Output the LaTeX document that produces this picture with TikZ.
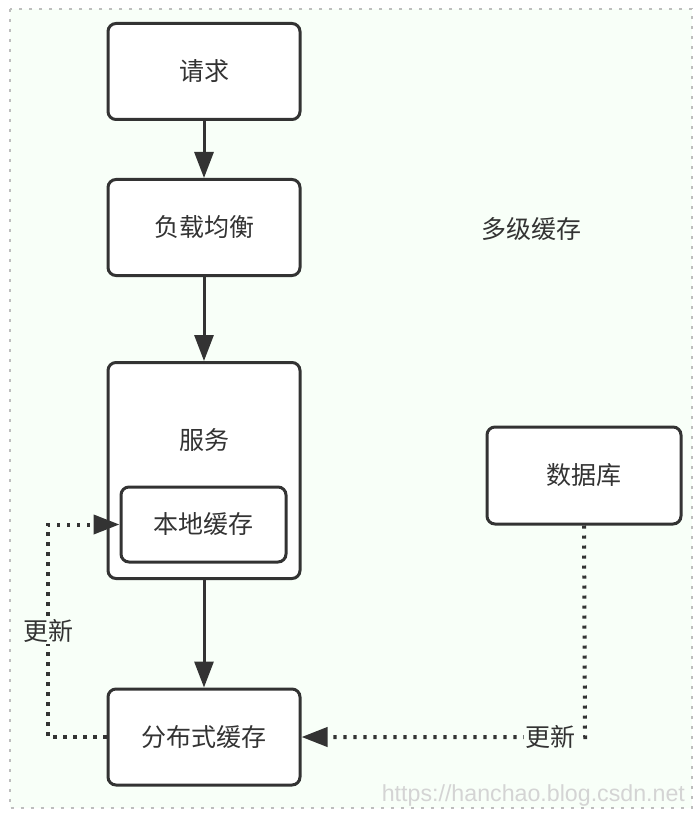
\documentclass[tikz,border=0pt]{standalone}
\usepackage{fontspec}
\setmainfont{Noto Sans CJK SC}
\newfontfamily\markfont{Liberation Sans}
\usetikzlibrary{arrows.meta}
\definecolor{paleground}{RGB}{248,255,248}
\definecolor{framegray}{RGB}{190,190,190}
\definecolor{inkgray}{RGB}{51,51,51}
\definecolor{markgray}{RGB}{212,212,212}

\begin{document}
\begin{tikzpicture}[x=0.5pt,y=-0.5pt, every node/.style={font=\fontsize{12.5}{15}\selectfont, text=inkgray},
    box/.style={draw=inkgray, line width=1.5pt, rounded corners=4pt, fill=white, inner sep=0pt},
    flow/.style={-{Triangle[length=13pt,width=9.5pt]}, draw=inkgray, line width=1.5pt},
    update/.style={-{Triangle[length=13pt,width=9.5pt]}, draw=inkgray, line width=2pt, dash pattern=on 1.6pt off 3.4pt},
    updlabel/.style={fill=paleground, inner sep=1pt}]
  \useasboundingbox (0,0) rectangle (700,818);
  \draw[framegray, line width=1.3pt, dash pattern=on 1.3pt off 3.7pt, fill=paleground] (10,9) rectangle (692,808);
  % left column
  \node[box, minimum width=96pt, minimum height=48pt] (req) at (204,71.5) {请求};
  \node[box, minimum width=96pt, minimum height=48pt] (lb) at (204,227.5) {负载均衡};
  \node[box, minimum width=96pt, minimum height=108pt] (svc) at (204,470.5) {};
  \node (svctext) at (204,440) {服务};
  \node[box, minimum width=82.5pt, minimum height=37.5pt] (local) at (203.5,524.5) {本地缓存};
  \node[box, minimum width=96pt, minimum height=48pt] (dist) at (204,737) {分布式缓存};
  % right side
  \node[box, minimum width=97pt, minimum height=48.5pt] (db) at (584,475.5) {数据库};
  \node (title) at (531,229) {多级缓存};
  \foreach \a/\b in {req/lb,lb/svc,svc/dist}
    \draw[flow] (\a) -- (\b);
  \coordinate (lbend1) at (48,737);
  \coordinate (lbend2) at (48,524.5);
  \coordinate (rbend) at (585,737);
  \draw[update] (dist.west) -- (lbend1) -- node[updlabel] {更新} (lbend2) -- (local.west);
  \draw[update] (db.south) -- (rbend) -- node[updlabel, pos=0.12] {更新} (dist.east);
  \node[font=\markfont\fontsize{11.6}{13}\selectfont, text=markgray, anchor=east] (mark) at (692,795) {https://hanchao.blog.csdn.net};
\end{tikzpicture}
\end{document}
